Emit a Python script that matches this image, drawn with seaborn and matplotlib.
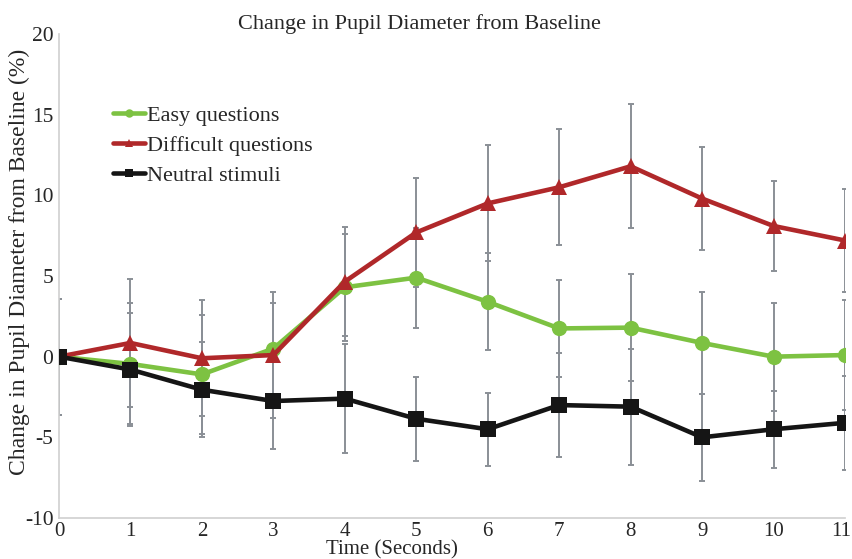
import matplotlib
matplotlib.use("Agg")
import matplotlib.pyplot as plt
import matplotlib.transforms as mtransforms
import seaborn as sns
import pandas as pd
import numpy as np

time_s = [0, 1, 2, 3, 4, 5, 6, 7, 8, 9, 10, 11]
easy = [0.0, -0.45, -1.1, 0.5, 4.3, 4.9, 3.4, 1.75, 1.8, 0.85, 0.0, 0.1]
easy_err = [3.6, 3.75, 3.7, 2.8, 3.3, 3.1, 3.0, 3.0, 3.3, 3.15, 3.35, 3.4]
difficult = [0.0, 0.85, -0.1, 0.1, 4.65, 7.7, 9.5, 10.5, 11.8, 9.8, 8.1, 7.2]
difficult_err = [3.6, 3.95, 3.6, 3.9, 3.4, 3.4, 3.6, 3.6, 3.85, 3.2, 2.8, 3.2]
neutral = [0.0, -0.8, -2.05, -2.75, -2.6, -3.85, -4.5, -3.0, -3.1, -5.0, -4.5, -4.1]
neutral_err = [3.6, 3.5, 2.95, 3.0, 3.4, 2.6, 2.25, 3.2, 3.6, 2.7, 2.4, 2.9]
series_names = ["Easy questions", "Difficult questions", "Neutral stimuli"]
yticks = [-10, -5, 0, 5, 10, 15, 20]

sns.set_style("white")
plt.rcParams["font.family"] = ["Liberation Serif", "DejaVu Serif"]
plt.rcParams["axes.unicode_minus"] = False

df = pd.DataFrame({
    "Time": time_s * 3,
    "Value": easy + difficult + neutral,
    "Err": easy_err + difficult_err + neutral_err,
    "Series": [series_names[0]] * 12 + [series_names[1]] * 12 + [series_names[2]] * 12,
})

colors = {"Easy questions": "#7dc242", "Difficult questions": "#b0282a", "Neutral stimuli": "#151515"}
markers = {"Easy questions": "o", "Difficult questions": "^", "Neutral stimuli": "s"}

fig = plt.figure(figsize=(8.53, 5.59), dpi=100)
ax_top, ax_bot = 34, 518
ax = fig.add_axes([59 / 853, 1 - ax_bot / 559, 786 / 853, (ax_bot - ax_top) / 559])

for name in series_names:
    sub = df[df["Series"] == name]
    ax.errorbar(sub["Time"], sub["Value"], yerr=sub["Err"], fmt="none",
                ecolor="#8a8f96", elinewidth=1.4, capsize=2.5, capthick=1.4, zorder=1)

sns.lineplot(data=df, x="Time", y="Value", hue="Series", style="Series",
             palette=colors, markers=markers, dashes=False, linewidth=3.3,
             markersize=11, markeredgewidth=0, ax=ax, zorder=3, legend=True)

ax.set_xlim(0, 11)
ax.set_ylim(-10, 20)
ax.set_xticks(time_s)
ax.set_yticks(yticks)
ax.tick_params(axis="both", labelsize=15.5, length=3, color="#c8c8c8", direction="out", pad=1)
ax.tick_params(axis="x", labelsize=15, pad=0)
for s in ["top", "right"]:
    ax.spines[s].set_visible(False)
for s in ["left", "bottom"]:
    ax.spines[s].set_color("#cfcfcf")
    ax.spines[s].set_linewidth(1.2)

# keep the last x tick label inside the canvas, as in the reference
last = ax.get_xticklabels()[-1]
last.set_transform(last.get_transform() + mtransforms.ScaledTranslation(-4 / 100, 0, fig.dpi_scale_trans))

ax.set_title("Change in Pupil Diameter from Baseline", fontsize=16, pad=0)
ax.title.set_position((0.459, 1.003))
ax.title.set_va("bottom")
ax.set_xlabel("Time (Seconds)", fontsize=15)
ax.xaxis.set_label_coords(0.424, -(540 - ax_bot) / (ax_bot - ax_top))
ax.set_ylabel("Change in Pupil Diameter from Baseline (%)", fontsize=17)
ax.yaxis.set_label_coords(-0.037, 0.53)

leg = ax.legend(loc="upper left", bbox_to_anchor=(0.0687, 0.852), frameon=False,
                fontsize=16, handlelength=1.45, handletextpad=0.1, labelspacing=0.41,
                borderpad=0, borderaxespad=0, markerscale=0.55)

fig.savefig("out.png", dpi=100)
